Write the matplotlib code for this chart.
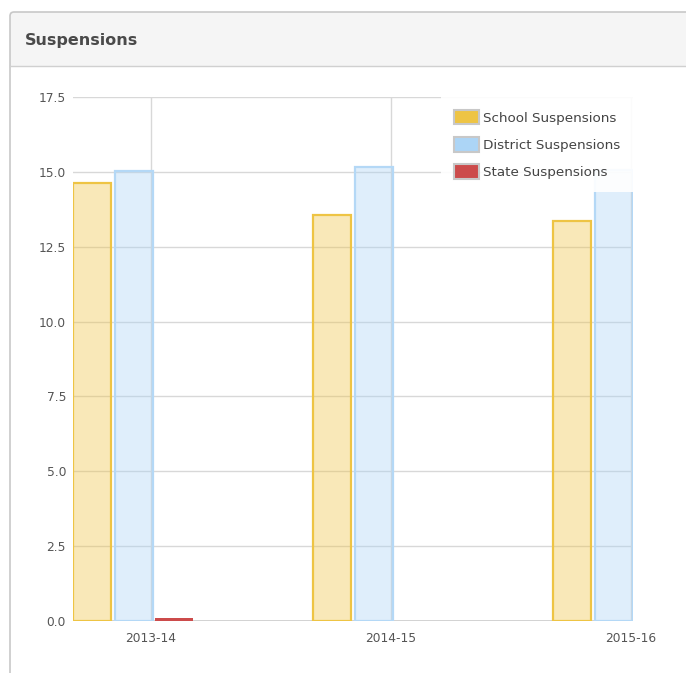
import matplotlib.pyplot as plt
from matplotlib.patches import Patch, Rectangle, FancyBboxPatch
import numpy as np

# Data
years = ['2013-14', '2014-15', '2015-16']
school = [14.63, 13.56, 13.36]
district = [15.03, 15.16, 15.06]
state = [0.1, 0.0, 0.0]
y_ticks = [0.0, 2.5, 5.0, 7.5, 10.0, 12.5, 15.0, 17.5]

W, H = 686, 673
fig = plt.figure(figsize=(W / 100, H / 100), dpi=100)
fig.patch.set_facecolor('white')

# panel frame + header
def px(x, y):
    return x / W, 1 - y / H

hx, hy = px(10, 66)
header = Rectangle((hx, hy), 1.0, 54 / H, transform=fig.transFigure,
                   facecolor='#f5f5f5', edgecolor='none', zorder=0)
fig.patches.append(header)
frame = FancyBboxPatch(px(10, 700), 1.0, (700 - 12) / H,
                       boxstyle='round,pad=0,rounding_size=0.006',
                       transform=fig.transFigure, facecolor='none',
                       edgecolor='#c8c8c8', linewidth=1.2, zorder=1)
fig.patches.append(frame)
fig.add_artist(plt.Line2D([10 / W, 1], [1 - 66 / H] * 2, transform=fig.transFigure,
                          color='#d0d0d0', linewidth=1.0))
tx, ty = px(25, 41)
fig.text(tx, ty, 'Suspensions', fontsize=11.5, fontweight='bold',
         color='#4a4a4a', va='center', ha='left')

ax = fig.add_axes([73 / W, 52 / H, 560 / W, 524 / H])
x = np.arange(len(years))
bw = 0.158

ax.bar(x - 0.325, school, width=bw, align='edge',
       facecolor=(0.94, 0.77, 0.27, 0.38), edgecolor='#eec444', linewidth=1.6, zorder=3)
ax.bar(x - 0.150, district, width=bw, align='edge',
       facecolor=(0.67, 0.83, 0.96, 0.38), edgecolor='#b4d8f6', linewidth=1.6, zorder=3)
ax.bar(x + 0.017, state, width=bw, align='edge',
       facecolor='#cc4b4b', edgecolor='none', linewidth=0, zorder=3)

ax.set_xlim(-0.325, 2.008)
ax.set_ylim(0, 17.5)
ax.set_yticks(y_ticks)
ax.set_yticklabels([f'{v:.1f}' for v in y_ticks])
ax.set_xticks(x)
ax.set_xticklabels(years)
ax.tick_params(axis='both', length=0, labelsize=8.8, colors='#555555')
ax.tick_params(axis='y', pad=5)
ax.tick_params(axis='x', pad=8)
for s in ax.spines.values():
    s.set_visible(False)
ax.grid(True, color='#d8d8d8', linewidth=1.0, zorder=1)
ax.set_axisbelow(True)
ax.axhline(0, color='#cccccc', linewidth=1.2, zorder=2)

handles = [Patch(facecolor='#eec444', edgecolor='#c8c8c8', linewidth=1.5),
           Patch(facecolor='#acd5f6', edgecolor='#c8c8c8', linewidth=1.5),
           Patch(facecolor='#cc4b4b', edgecolor='#c8c8c8', linewidth=1.5)]
labels = ['School Suspensions', 'District Suspensions', 'State Suspensions']
leg = ax.legend(handles, labels, loc='upper right', bbox_to_anchor=(1.0, 1.0),
                fontsize=9.7, frameon=True, fancybox=False, borderaxespad=0,
                handlelength=1.85, handleheight=1.3, handletextpad=0.3,
                labelspacing=0.92, borderpad=0.95, framealpha=0.92)
leg.get_frame().set_edgecolor('none')
for t in leg.get_texts():
    t.set_color('#444444')
leg.set_zorder(5)

fig.savefig('out.png', dpi=100)
